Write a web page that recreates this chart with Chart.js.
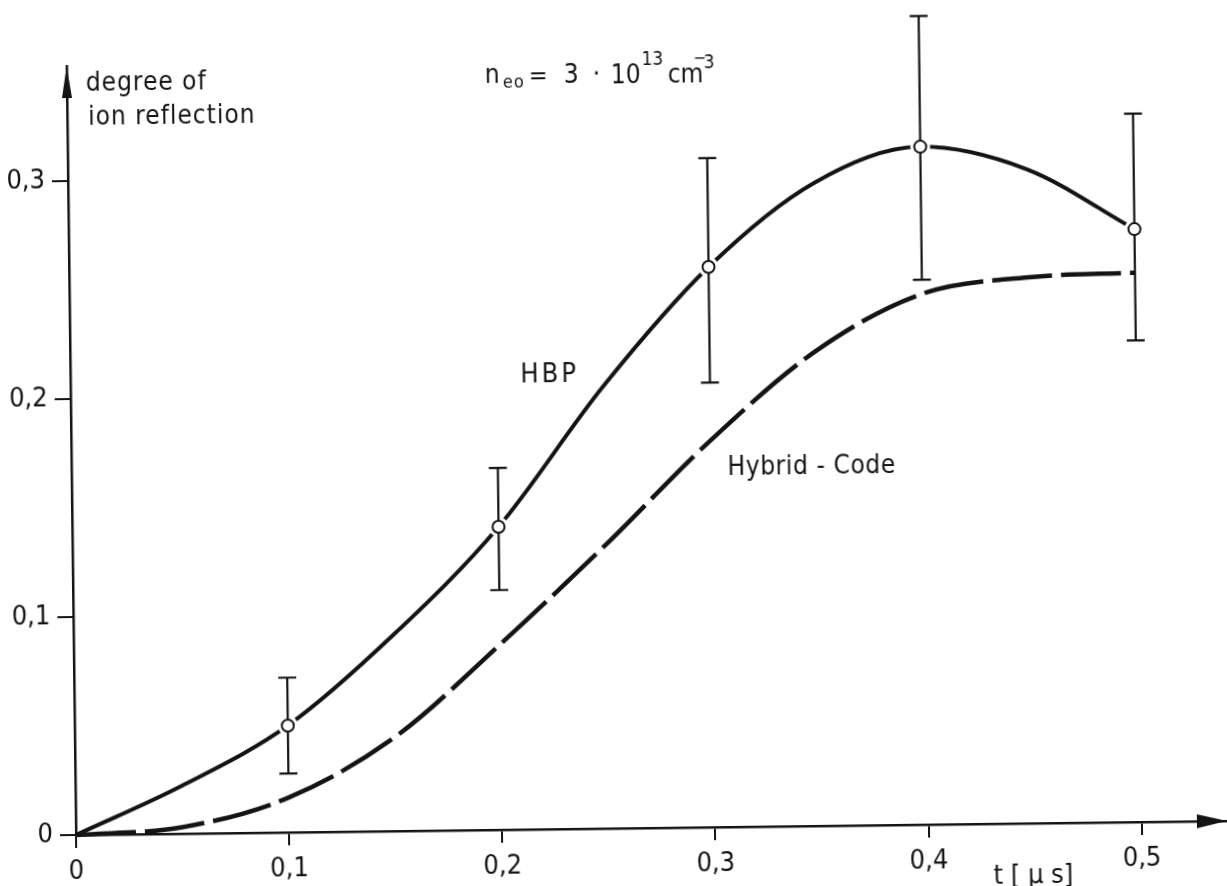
<!DOCTYPE html>
<html>
<head>
<meta charset="utf-8">
<script src="https://cdn.jsdelivr.net/npm/chart.js@4.4.1/dist/chart.umd.min.js"></script>
<style>
  html, body { margin: 0; padding: 0; background: #fff; overflow: hidden; width: 1227px; height: 886px; }
  /* the printed figure sits slightly askew on the page */
  #chart { display: block; transform: rotate(-0.7deg); transform-origin: 76px 835px; }
</style>
</head>
<body>
<canvas id="chart" width="1250" height="910"></canvas>
<script>
const FONT = "'DejaVu Sans Condensed', 'Liberation Sans Narrow', 'DejaVu Sans', sans-serif";
const INK = "#141414";

// axis ticks
const xTicks = [0, 0.1, 0.2, 0.3, 0.4, 0.5];
const yTicks = [0, 0.1, 0.2, 0.3];

// HBP curve (solid)
const tHBP = [0, 0.05, 0.1, 0.15, 0.2, 0.25, 0.3, 0.35, 0.4, 0.45, 0.5];
const hbp  = [0, 0.022, 0.049, 0.090, 0.139, 0.203, 0.257, 0.295, 0.311, 0.300, 0.272];

// Hybrid-Code curve (dashed)
const tHybrid = [0, 0.05, 0.1, 0.15, 0.2, 0.25, 0.3, 0.35, 0.4, 0.45, 0.5];
const hybrid  = [0, 0.003, 0.016, 0.043, 0.085, 0.130, 0.1775, 0.218, 0.2435, 0.2505, 0.252];

// measured points with error bars
const tMeas    = [0.1, 0.2, 0.3, 0.4, 0.5];
const meas     = [0.049, 0.139, 0.257, 0.311, 0.272];
const measLow  = [0.027, 0.110, 0.204, 0.250, 0.221];
const measHigh = [0.071, 0.166, 0.307, 0.371, 0.325];

const pts = (xs, ys) => xs.map((x, i) => ({ x, y: ys[i] }));
const fmt = v => (v === 0 ? "0" : v.toFixed(1).replace(".", ","));

// white gap round each circle, then the error bar
const errorBars = {
  id: "errorBars",
  beforeDatasetDraw(chart, args) {
    if (args.index !== 0) return;
    const { ctx, scales: { x, y } } = chart;
    ctx.save();
    tMeas.forEach((t, i) => {
      const px = x.getPixelForValue(t);
      const py = y.getPixelForValue(meas[i]);
      ctx.fillStyle = "#fff";
      ctx.beginPath();
      ctx.arc(px, py, 10, 0, Math.PI * 2);
      ctx.fill();

      const top = y.getPixelForValue(measHigh[i]);
      const bot = y.getPixelForValue(measLow[i]);
      ctx.strokeStyle = INK;
      ctx.lineWidth = 2.2;
      ctx.beginPath();
      ctx.moveTo(px, top); ctx.lineTo(px, bot);
      ctx.moveTo(px - 9, top); ctx.lineTo(px + 9, top);
      ctx.moveTo(px - 9, bot); ctx.lineTo(px + 9, bot);
      ctx.stroke();
    });
    ctx.restore();
  }
};

// arrow heads on both axes
const axisArrows = {
  id: "axisArrows",
  afterDraw(chart) {
    const { ctx, chartArea: a } = chart;
    ctx.save();
    ctx.fillStyle = INK;
    ctx.beginPath();
    ctx.moveTo(a.left, a.top);
    ctx.lineTo(a.left - 5, a.top + 32);
    ctx.lineTo(a.left + 5, a.top + 32);
    ctx.closePath();
    ctx.fill();
    ctx.beginPath();
    ctx.moveTo(a.right, a.bottom);
    ctx.lineTo(a.right - 30, a.bottom - 7);
    ctx.lineTo(a.right - 30, a.bottom + 7);
    ctx.closePath();
    ctx.fill();
    ctx.restore();
  }
};

// axis titles, curve names and the density note
const notes = {
  id: "notes",
  afterDraw(chart) {
    const ctx = chart.ctx;
    const put = (txt, x, y, size, spacing) => {
      ctx.font = size + "px " + FONT;
      ctx.letterSpacing = (spacing || 0) + "px";
      ctx.fillText(txt, x, y);
    };
    ctx.save();
    ctx.fillStyle = INK;
    ctx.textAlign = "left";
    ctx.textBaseline = "alphabetic";

    put("degree of", 95, 91, 26, 1);
    put("ion reflection", 97, 125, 26, 1);

    put("n", 494, 88, 26);
    put("eo", 512, 93, 18, 1);
    put("=", 538, 89, 25);
    put("3", 573, 89, 26);
    put("\u00b7", 602, 89, 26);
    put("10", 620, 90, 26);
    put("13", 651, 72, 19);
    put("cm", 677, 90, 26);
    put("\u2212", 703, 71, 17);
    put("3", 713, 76, 19);

    put("HBP", 526, 388, 27, 3);
    put("Hybrid - Code", 732, 483, 26, 0.6);
    put("t [ \u03bc s]", 993, 895, 27);
    ctx.restore();
  }
};

new Chart(document.getElementById("chart"), {
  type: "scatter",
  data: {
    datasets: [
      {
        label: "measured",
        data: pts(tMeas, meas),
        order: 0,
        showLine: false,
        pointRadius: 6,
        pointBackgroundColor: "#fff",
        pointBorderColor: INK,
        pointBorderWidth: 2
      },
      {
        label: "HBP",
        data: pts(tHBP, hbp),
        order: 1,
        showLine: true,
        borderColor: INK,
        borderWidth: 4,
        pointRadius: 0,
        cubicInterpolationMode: "monotone",
        clip: 8
      },
      {
        label: "Hybrid - Code",
        data: pts(tHybrid, hybrid),
        order: 2,
        showLine: true,
        borderColor: INK,
        borderWidth: 4.5,
        borderDash: [60, 9],
        borderCapStyle: "butt",
        pointRadius: 0,
        cubicInterpolationMode: "monotone",
        clip: 8
      }
    ]
  },
  options: {
    responsive: false,
    animation: false,
    events: [],
    layout: { padding: { top: 66, right: 23, left: 0, bottom: 0 } },
    plugins: { legend: { display: false }, tooltip: { enabled: false } },
    scales: {
      x: {
        type: "linear",
        min: 0,
        max: 0.54,
        afterBuildTicks: s => { s.ticks = xTicks.map(v => ({ value: v })); },
        afterFit: s => { s.height = 75; },
        border: { display: true, color: INK, width: 2.5 },
        grid: { drawOnChartArea: false, drawTicks: true, tickLength: 13, color: INK, lineWidth: 2 },
        ticks: { color: INK, padding: 8, maxRotation: 0, font: { family: FONT, size: 27 }, callback: fmt }
      },
      y: {
        type: "linear",
        min: 0,
        max: 0.3528,
        afterBuildTicks: s => { s.ticks = yTicks.map(v => ({ value: v })); },
        afterFit: s => { s.width = 76; },
        border: { display: true, color: INK, width: 2.5 },
        grid: { drawOnChartArea: false, drawTicks: true, tickLength: 16, color: INK, lineWidth: 2 },
        ticks: { color: INK, padding: 7, font: { family: FONT, size: 27 }, callback: fmt }
      }
    }
  },
  plugins: [errorBars, axisArrows, notes]
});
</script>
</body>
</html>
